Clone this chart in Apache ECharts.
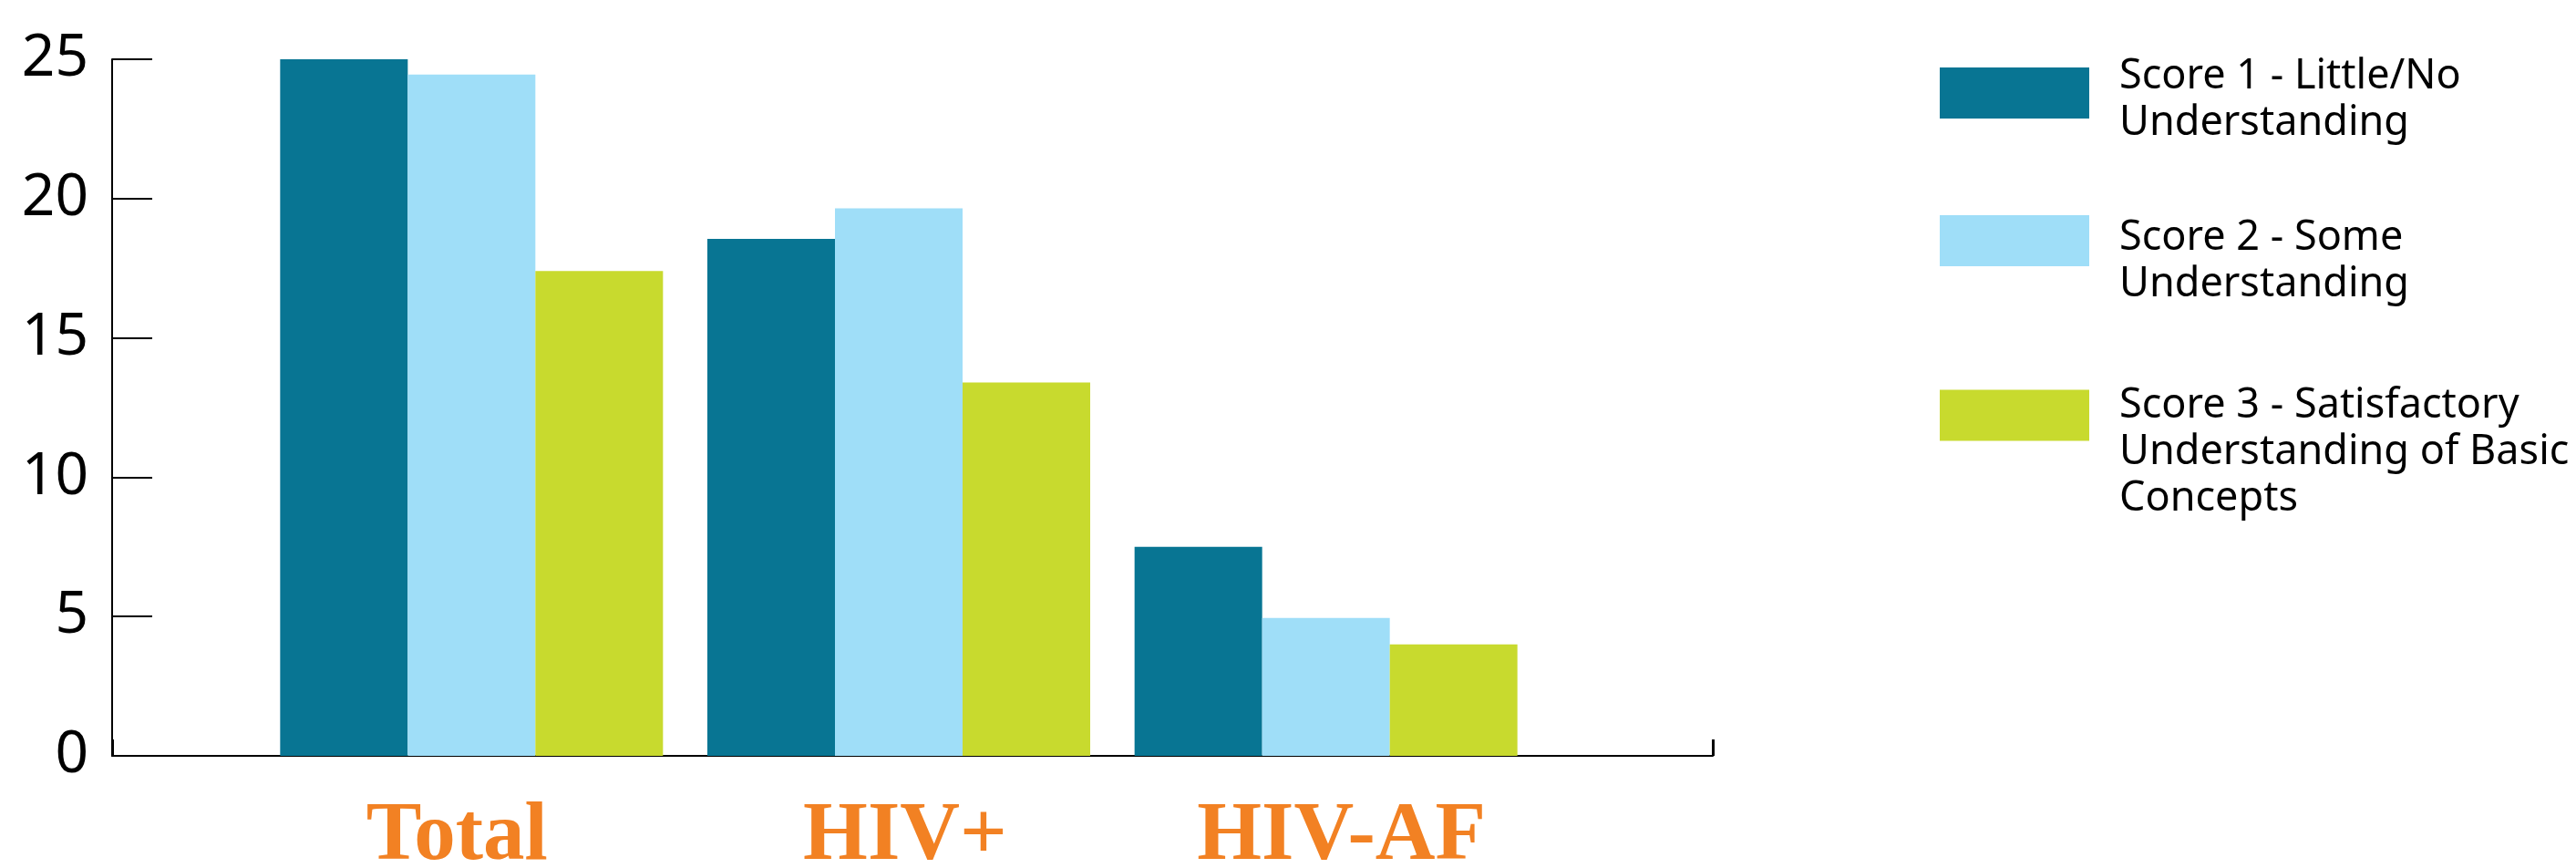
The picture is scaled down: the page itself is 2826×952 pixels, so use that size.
<!DOCTYPE html>
<html>
<head>
<meta charset="utf-8">
<title>Score chart</title>
<script src="https://cdn.jsdelivr.net/npm/echarts@6/dist/echarts.min.js"></script>
<style>
html,body{margin:0;padding:0;background:#fff;}
#main{width:2826px;height:952px;}
</style>
</head>
<body>
<div id="main"></div>
<script type="text/javascript">
// data
var categories = ['Total', 'HIV+', 'HIV-AF'];
var seriesNames = ['Score 1 - Little/No Understanding', 'Score 2 - Some Understanding', 'Score 3 - Satisfactory Understanding of Basic Concepts'];
var legendLines = [
    ['Score 1 - Little/No', 'Understanding'],
    ['Score 2 - Some', 'Understanding'],
    ['Score 3 - Satisfactory', 'Understanding of Basic', 'Concepts']
];
var score1 = [25, 18.55, 7.5];
var score2 = [24.45, 19.65, 4.95];
var score3 = [17.4, 13.4, 4.0];
var yMin = 0, yMax = 25, yStep = 5;
var colors = ['#087593', '#9FDEF8', '#C8DA2E'];

var myChart = echarts.init(document.getElementById('main'));

// the text in the original sits a bit lower than the swatch centre,
// so an empty spacer line of height padH pushes it down
function legendFor(i, top, padH){
    return {
        data: [seriesNames[i]],
        left: 2128,
        top: top,
        padding: 0,
        icon: 'rect',
        itemWidth: 164,
        itemHeight: 56,
        selectedMode: false,
        formatter: function(name){
            var lines = legendLines[seriesNames.indexOf(name)];
            return '{p| }\n' + lines.map(function(l){ return '{t|' + l + '}'; }).join('\n');
        },
        textStyle: {
            color: '#000',
            padding: [0, 0, 0, 28],
            rich: {
                p: {fontSize: 2, lineHeight: padH},
                t: {fontFamily: 'Noto Sans', fontSize: 45, lineHeight: 51, color: '#000'}
            }
        }
    };
}

function barSeries(i, values){
    return {
        name: seriesNames[i],
        type: 'bar',
        xAxisIndex: 1,
        yAxisIndex: 1,
        barWidth: 140,
        barGap: '0%',
        itemStyle: {color: colors[i]},
        data: values
    };
}

// category label font, labels in the original are not quite centred on the groups
var catFont = {color: '#F28123', fontFamily: 'Liberation Serif', fontWeight: 'bold', fontSize: 91};

var option = {
    backgroundColor: '#fff',
    animation: false,
    legend: [
        legendFor(0, 50, 16),
        legendFor(1, 212, 46),
        legendFor(2, 378, 82)
    ],
    grid: [
        {left: 123, right: 947, top: 65, bottom: 123, containLabel: false, outerBoundsMode: 'none'},
        {left: 283, right: 1137, top: 65, bottom: 123, containLabel: false, outerBoundsMode: 'none'}
    ],
    xAxis: [
        {
            gridIndex: 0,
            type: 'value',
            min: 0, max: 1, interval: 1,
            axisLine: {show: true, lineStyle: {color: '#000', width: 2}},
            axisTick: {show: true, inside: true, length: 18, lineStyle: {color: '#000', width: 3}},
            axisLabel: {show: false},
            splitLine: {show: false}
        },
        {
            gridIndex: 1,
            type: 'category',
            data: categories,
            axisLine: {show: false},
            axisTick: {show: false},
            axisLabel: {
                interval: 0,
                margin: 44,
                color: catFont.color,
                fontFamily: catFont.fontFamily,
                fontWeight: catFont.fontWeight,
                fontSize: catFont.fontSize,
                formatter: function(v, i){ return '{c' + i + '|' + v + '}'; },
                rich: {
                    c0: Object.assign({padding: [0, 32, 0, 0]}, catFont),
                    c1: Object.assign({padding: [0, 0, 0, 14]}, catFont),
                    c2: Object.assign({padding: [0, 0, 0, 34]}, catFont)
                }
            }
        }
    ],
    yAxis: [
        {
            gridIndex: 0,
            type: 'value',
            min: yMin, max: yMax, interval: yStep,
            axisLine: {show: true, lineStyle: {color: '#000', width: 2}},
            axisTick: {show: true, inside: true, length: 44, lineStyle: {color: '#000', width: 2}},
            axisLabel: {
                margin: 26,
                color: '#000',
                fontFamily: 'Noto Sans',
                fontSize: 64,
                padding: [10, 0, 0, 0]
            },
            splitLine: {show: false}
        },
        {
            gridIndex: 1,
            type: 'value',
            min: yMin, max: yMax, interval: yStep,
            show: false
        }
    ],
    series: [
        barSeries(0, score1),
        barSeries(1, score2),
        barSeries(2, score3)
    ]
};

myChart.setOption(option);
</script>
</body>
</html>
